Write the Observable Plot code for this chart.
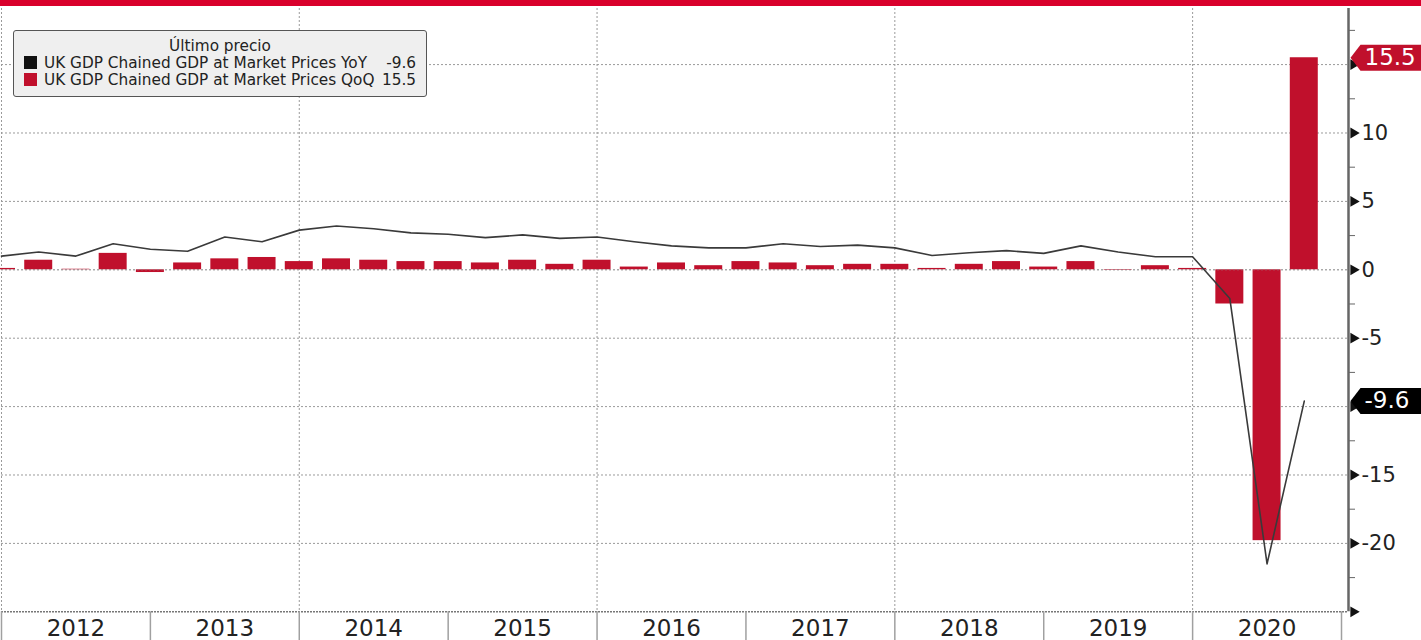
<!DOCTYPE html>
<html><head><meta charset="utf-8">
<script src="https://cdn.jsdelivr.net/npm/d3@7"></script>
<script src="https://cdn.jsdelivr.net/npm/@observablehq/plot@0.6"></script>
<style>
html,body{margin:0;padding:0;background:#fff;overflow:hidden;font-family:"DejaVu Sans",sans-serif}
#band{height:6px;background:#d9002b}
#wrap{position:relative;width:1421px;height:634px}
#legend{position:absolute;left:13px;top:24px;width:414px;height:67px;box-sizing:border-box;border:1.5px solid #555;border-radius:3px;background:#efefef;color:#222;font-size:15.3px}
#legend .title{position:absolute;left:0;right:0;top:7px;text-align:center;line-height:17px}
#legend .row{position:absolute;left:10px;right:10px;height:17px;line-height:17px;white-space:nowrap}
#legend .sw{display:inline-block;width:13px;height:13px;vertical-align:-1px;margin-right:7px}
#legend .val{position:absolute;right:0;top:0}
</style></head><body>
<div id="band"></div>
<div id="wrap"><div id="chart"></div><div id="legend"></div></div>
<script>
const quarters = ["2011Q4",
 "2012Q1","2012Q2","2012Q3","2012Q4",
 "2013Q1","2013Q2","2013Q3","2013Q4",
 "2014Q1","2014Q2","2014Q3","2014Q4",
 "2015Q1","2015Q2","2015Q3","2015Q4",
 "2016Q1","2016Q2","2016Q3","2016Q4",
 "2017Q1","2017Q2","2017Q3","2017Q4",
 "2018Q1","2018Q2","2018Q3","2018Q4",
 "2019Q1","2019Q2","2019Q3","2019Q4",
 "2020Q1","2020Q2","2020Q3"];
const qoq = [0.1,
 0.7, 0.04, 1.2, -0.2,
 0.5, 0.8, 0.9, 0.6,
 0.8, 0.7, 0.6, 0.6,
 0.5, 0.7, 0.4, 0.7,
 0.2, 0.5, 0.3, 0.6,
 0.5, 0.3, 0.4, 0.4,
 0.1, 0.4, 0.6, 0.2,
 0.6, -0.04, 0.3, 0.1,
 -2.5, -19.8, 15.5];
const yoy = [1.0,
 1.3, 1.0, 1.9, 1.5,
 1.35, 2.4, 2.05, 2.9,
 3.2, 3.0, 2.7, 2.6,
 2.35, 2.55, 2.3, 2.4,
 2.05, 1.75, 1.6, 1.6,
 1.9, 1.7, 1.8, 1.6,
 1.05, 1.25, 1.4, 1.2,
 1.75, 1.3, 0.95, 0.95,
 -2.1, -21.5, -9.6];
const yearLabels = ["2012","2013","2014","2015","2016","2017","2018","2019","2020"];
const majorTicks = [-25,-20,-15,-10,-5,0,5,10,15];
const labelledTicks = [-20,-15,-5,0,5,10]; // -10 and 15 sit under the last-value tags
const minorTicks = [-22.5,-17.5,-12.5,-7.5,-2.5,2.5,7.5,12.5,17.5];
const gridValues = [-20,-15,-10,-5,0,5,10,15];
const legendTitle = "Último precio";
const seriesNames = ["UK GDP Chained GDP at Market Prices YoY","UK GDP Chained GDP at Market Prices QoQ"];
const seriesColors = ["#111111","#c0102c"];
const lastValues = [-9.6, 15.5];

// quarter label -> position at quarter end (fractional year)
const qpos = q => +q.slice(0,4) + (+q.slice(5)) / 4;
const data = quarters.map((q,i) => ({t: qpos(q), qoq: qoq[i], yoy: yoy[i]}));
const years = yearLabels.map(Number);
const xMin = years[0], xMax = 2021.047;
const yMin = -25, yMax = 19.1;
const halfBar = 0.094;

const badge = {draw(ctx){ctx.moveTo(2,0);ctx.lineTo(12,-13);ctx.lineTo(80,-13);ctx.lineTo(80,13);ctx.lineTo(12,13);ctx.closePath();}};
const badges = [{v: lastValues[1], c: seriesColors[1], s: "15.5"}, {v: lastValues[0], c: "#000", s: "-9.6"}];

const chart = Plot.plot({
  width: 1421, height: 634,
  marginLeft: 1, marginRight: 73, marginTop: 2, marginBottom: 28.7,
  style: {fontFamily: "DejaVu Sans, sans-serif", background: "transparent", overflow: "visible"},
  x: {domain: [xMin, xMax]},
  y: {domain: [yMin, yMax]},
  marks: [
    Plot.ruleY(gridValues, {stroke: "#9a9a9a", strokeDasharray: "2,2", strokeWidth: 1}),
    Plot.ruleX(years.filter((d,i) => i % 2 === 0), {stroke: "#9a9a9a", strokeDasharray: "2,2", strokeWidth: 1}),
    Plot.rect(data, {x1: d => d.t - halfBar, x2: d => d.t + halfBar, y1: d => 0, y2: "qoq", fill: seriesColors[1]}),
    Plot.ruleY([0], {stroke: "#9a9a9a", strokeDasharray: "2,2", strokeWidth: 1, strokeOpacity: 0.6}),
    Plot.line(data, {x: "t", y: "yoy", stroke: "#3a3a3a", strokeWidth: 1.6}),
    Plot.ruleY([yMin], {stroke: "#777", strokeDasharray: "2,1", strokeWidth: 1.5}),
    Plot.axisX({ticks: [...years, years[years.length-1] + 1], tickSize: 30, tickFormat: () => "", label: null, stroke: "#a0a0a0", strokeWidth: 1.5}),
    Plot.axisX({ticks: years.map(y => y + 0.5), tickSize: 0, tickPadding: 8, label: null, tickFormat: d => yearLabels[years.indexOf(Math.floor(d))], fontSize: 23, color: "#222"}),
    Plot.ruleX([xMax], {y1: yMin, y2: yMax, stroke: "#666", strokeWidth: 2.5}),
    Plot.axisY({anchor: "right", ticks: minorTicks, tickSize: 6, label: null, tickFormat: () => "", stroke: "#666"}),
    Plot.axisY({anchor: "right", ticks: labelledTicks, tickSize: 0, tickPadding: 13, label: null, tickFormat: d => String(d), fontSize: 21, color: "#222"}),
    Plot.dot(majorTicks, {y: d => d, frameAnchor: "right", dx: 5, symbol: "triangle", rotate: 90, r: 4, fill: "#111", stroke: null}),
    Plot.dot(badges, {y: "v", frameAnchor: "right", symbol: badge, fill: "c", stroke: null}),
    Plot.text(badges, {y: "v", text: "s", frameAnchor: "right", dx: 16, textAnchor: "start", fill: "#fff", fontSize: 23})
  ]
});
document.getElementById("chart").appendChild(chart);

const lg = document.getElementById("legend");
let html = `<div class="title">${legendTitle}</div>`;
seriesNames.forEach((n,i) => {
  html += `<div class="row" style="top:${24 + i*17}px"><span class="sw" style="background:${seriesColors[i]}"></span>${n}<span class="val">${lastValues[i]}</span></div>`;
});
lg.innerHTML = html;
</script>
</body></html>
